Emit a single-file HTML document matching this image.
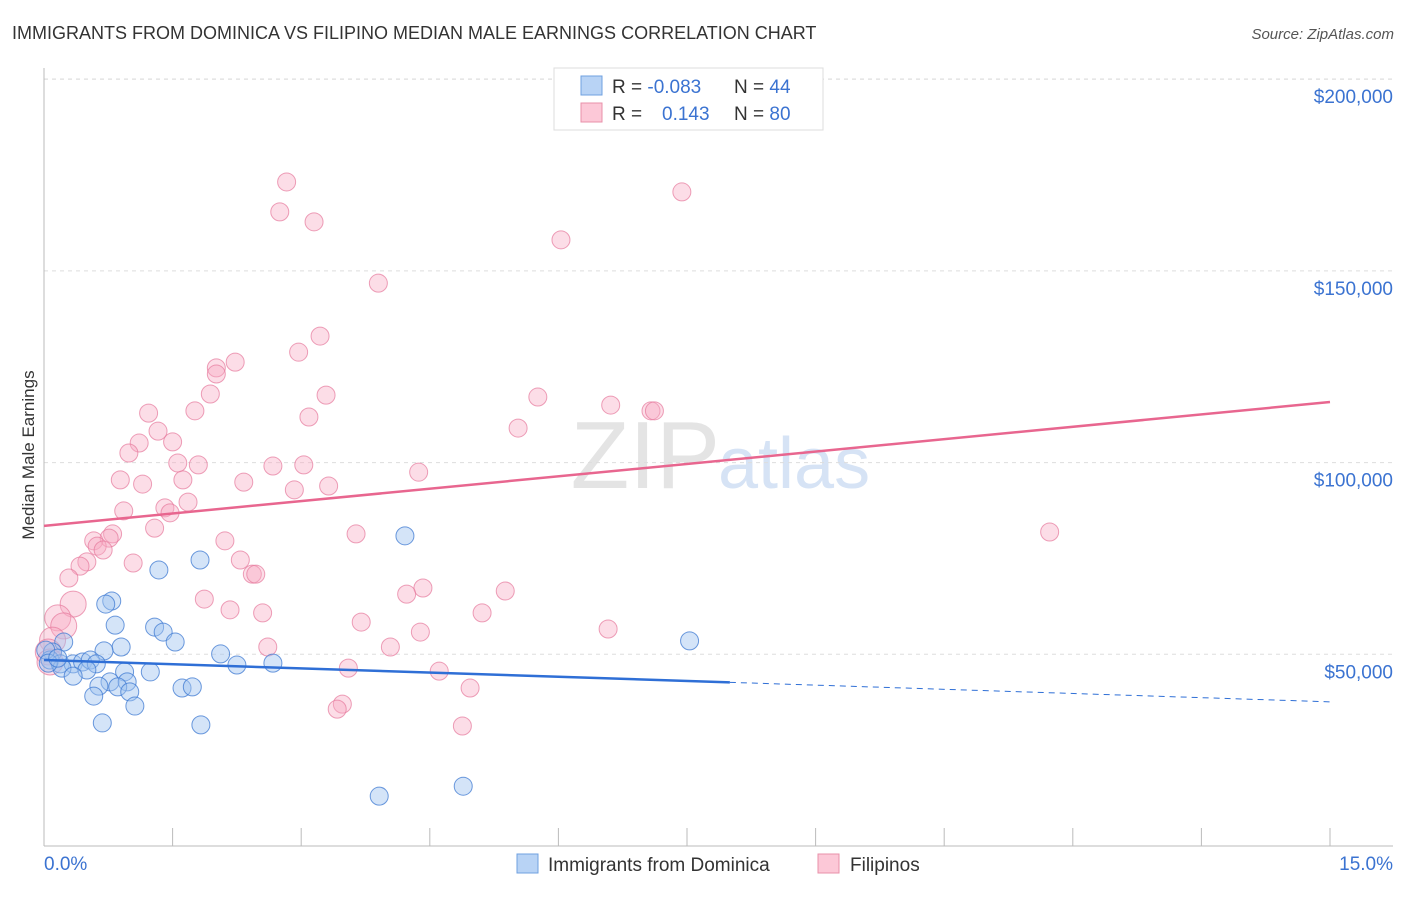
<!DOCTYPE html>
<html><head><meta charset="utf-8"><style>
body{margin:0;background:#fff;font-family:"Liberation Sans",sans-serif}
svg text{font-family:"Liberation Sans",sans-serif}
</style></head><body>
<svg id="chart" width="1406" height="892">
<text x="12" y="39" font-size="18" fill="#333">IMMIGRANTS FROM DOMINICA VS FILIPINO MEDIAN MALE EARNINGS CORRELATION CHART</text>
<text x="1394" y="39" font-size="15" fill="#555" font-style="italic" text-anchor="end">Source: ZipAtlas.com</text>
<text x="720" y="488" font-size="96" fill="#e4e4e4" text-anchor="end" font-family="Liberation Serif">ZIP</text>
<text x="718" y="488" font-size="72" fill="#d6e3f5">atlas</text>
<g id="grid"></g>
<g id="axes"></g>
<g id="marks"></g>
<g id="trends"></g>
<text transform="translate(34,455) rotate(-90)" font-size="17" fill="#333" text-anchor="middle">Median Male Earnings</text>
<g>
<rect x="554" y="68" width="269" height="62" fill="#fff" stroke="#ddd"/>
<rect x="581" y="76" width="21" height="19" fill="#b8d3f5" stroke="#6fa0e0"/>
<rect x="581" y="103" width="21" height="19" fill="#fcc8d7" stroke="#e890aa"/>
<text x="612" y="93" font-size="19" fill="#333">R = <tspan fill="#3b73d1">-0.083</tspan></text>
<text x="734" y="93" font-size="19" fill="#333">N = <tspan fill="#3b73d1">44</tspan></text>
<text x="612" y="120" font-size="19" fill="#333">R = <tspan x="662" fill="#3b73d1">0.143</tspan></text>
<text x="734" y="120" font-size="19" fill="#333">N = <tspan fill="#3b73d1">80</tspan></text>
</g>
<g>
<rect x="517" y="854" width="21" height="19" fill="#b8d3f5" stroke="#6fa0e0"/>
<text x="548" y="871" font-size="19" fill="#333">Immigrants from Dominica</text>
<rect x="818" y="854" width="21" height="19" fill="#fcc8d7" stroke="#e890aa"/>
<text x="850" y="871" font-size="19" fill="#333">Filipinos</text>
</g>
</svg>
<script>
const yTicks=[50000,100000,150000,200000];
const yTickLabels=["$50,000","$100,000","$150,000","$200,000"];
const xTicks=[0,1.5,3,4.5,6,7.5,9,10.5,12,13.5,15];
const blueX=[4.21,1.82,1.34,0.79,0.72,0.83,1.29,1.39,0.90,1.53,0.70,2.06,0.23,7.53,0.10,0.07,0.19,0.34,0.45,0.54,0.61,0.50,0.21,0.34,2.25,2.67,0.94,1.24,0.77,0.64,0.97,0.86,1.00,1.61,1.73,0.58,1.06,0.68,1.83,3.91,4.89,0.02,0.05,0.16];
const blueY=[80.9,74.6,72.0,63.9,63.1,57.6,57.1,55.8,51.9,53.2,50.9,50.1,53.2,53.5,50.6,48.5,47.5,47.5,48.0,48.5,47.5,45.9,46.4,44.3,47.2,47.7,45.4,45.4,42.8,41.7,42.8,41.5,40.2,41.2,41.5,39.1,36.5,32.1,31.6,13.0,15.6,51.1,47.7,49.0];
const pinkX=[2.83,7.44,2.75,3.15,6.03,3.90,3.22,2.97,2.23,2.01,2.01,3.29,1.94,5.76,6.61,7.08,7.12,1.76,1.22,3.09,1.33,5.53,1.11,1.50,0.99,1.56,1.80,2.67,3.03,4.37,0.89,1.62,1.15,2.33,3.32,2.92,1.68,1.41,1.47,0.93,1.29,3.64,11.73,0.80,0.76,0.58,0.62,0.69,2.11,0.50,0.42,1.04,2.29,2.43,2.47,0.29,4.42,5.38,4.23,1.87,0.34,2.17,2.55,5.11,0.16,0.23,3.70,6.58,4.39,0.10,2.61,4.04,0.05,0.07,3.55,4.61,4.97,3.48,3.42,4.88];
const pinkY=[173.2,170.6,165.4,162.8,158.1,146.8,133.0,128.8,126.2,124.7,123.1,117.6,117.9,117.1,115.0,113.5,113.5,113.5,112.9,111.9,108.2,109.0,105.1,105.4,102.5,99.9,99.4,99.1,99.4,97.5,95.5,95.5,94.4,94.9,93.9,92.9,89.7,88.2,86.9,87.4,82.9,81.4,81.9,81.4,80.3,79.6,78.2,77.2,79.6,74.1,73.0,73.8,74.6,70.9,70.9,69.9,67.3,66.5,65.7,64.4,63.1,61.6,60.8,60.8,59.5,57.4,58.4,56.6,55.8,53.7,51.9,51.9,50.6,48.0,46.4,45.6,41.2,37.0,35.7,31.3];
const blueTrend=[48.5,37.6];
const pinkTrend=[83.5,115.8];
const blueSolidEnd=8.0;
const NS="http://www.w3.org/2000/svg";
const X=v=>44+v/15*1286;
const Y=v=>846-v/50000*191.7;
const Yk=v=>Y(v*1000);
function mk(t,a,p){const e=document.createElementNS(NS,t);for(const k in a)e.setAttribute(k,a[k]);p.appendChild(e);return e;}
const grid=document.getElementById('grid'),axes=document.getElementById('axes'),marks=document.getElementById('marks'),trends=document.getElementById('trends');
yTicks.forEach((t,i)=>{
 const l=mk('line',{x1:44,x2:1393,y1:Y(t),y2:Y(t),stroke:'#ddd','stroke-dasharray':'4,4'},grid);
 
 
 const tx=mk('text',{x:1393,y:Y(t)+24,'font-size':19,fill:'#3b73d1','text-anchor':'end'},axes);
 tx.textContent=yTickLabels[i];
 
 
});
const tl=mk('line',{x1:44,x2:1393,y1:79,y2:79,stroke:'#ddd','stroke-dasharray':'4,4'},grid);


const ya=mk('line',{x1:44,x2:44,y1:68,y2:846,stroke:'#bbb'},axes);


const xa=mk('line',{x1:44,x2:1393,y1:846,y2:846,stroke:'#bbb'},axes);


xTicks.forEach(t=>{
 const l=mk('line',{x1:X(t),x2:X(t),y1:828,y2:846,stroke:'#bbb'},axes);
 
 
});
[[0,'0.0%','start',44],[15,'15.0%','end',1393]].forEach(d=>{
 const tx=mk('text',{x:d[3],y:870,'font-size':19,fill:'#3b73d1','text-anchor':d[2]},axes);
 tx.textContent=d[1];
 
 
});
pinkX.forEach((x,i)=>{
 const r=(x<0.4&&pinkY[i]<65)?13:9;
 const c=mk('circle',{cx:X(x),cy:Yk(pinkY[i]),r:r,fill:'rgba(248,170,195,0.4)',stroke:'rgba(230,120,155,0.7)','stroke-width':1},marks);
 
 
});
blueX.forEach((x,i)=>{
 const c=mk('circle',{cx:X(x),cy:Yk(blueY[i]),r:9,fill:'rgba(160,195,240,0.45)',stroke:'rgba(60,120,210,0.75)','stroke-width':1},marks);
 
 
});
const pt=mk('line',{x1:X(0),y1:Yk(pinkTrend[0]),x2:X(15),y2:Yk(pinkTrend[1]),stroke:'#e8668f','stroke-width':2.5},trends);


const bAt=v=>blueTrend[0]+(blueTrend[1]-blueTrend[0])*v/15;
const bs=mk('line',{x1:X(0),y1:Yk(bAt(0)),x2:X(blueSolidEnd),y2:Yk(bAt(blueSolidEnd)),stroke:'#2f6fd6','stroke-width':2.5},trends);


const bd=mk('line',{x1:X(blueSolidEnd),y1:Yk(bAt(blueSolidEnd)),x2:X(15),y2:Yk(bAt(15)),stroke:'#2f6fd6','stroke-width':1,'stroke-dasharray':'6,5'},trends);


</script>
</body></html>
